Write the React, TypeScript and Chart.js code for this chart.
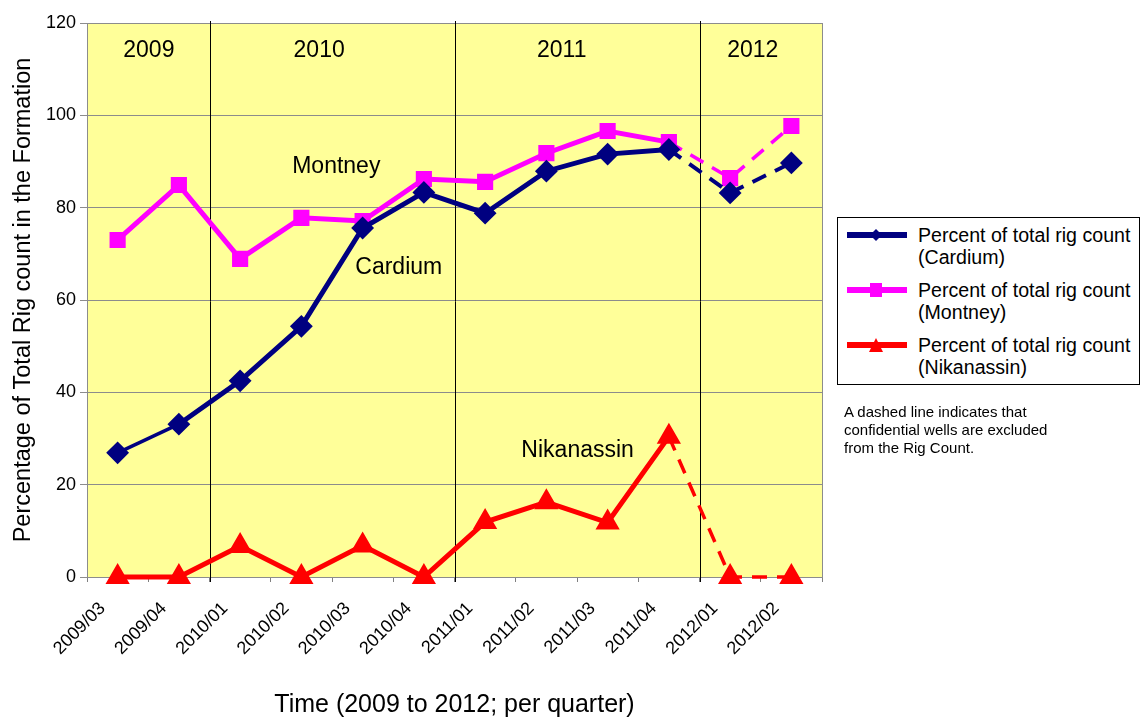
import React, { useEffect, useRef } from "react";
import { Chart, registerables } from "chart.js";

Chart.register(...registerables);

// ---------- data ----------
const quarters = [
  "2009/03", "2009/04", "2010/01", "2010/02", "2010/03", "2010/04",
  "2011/01", "2011/02", "2011/03", "2011/04", "2012/01", "2012/02",
];
const cardium = [26.9, 33.1, 42.5, 54.3, 75.6, 83.3, 78.8, 87.9, 91.6, 92.6, 83.2, 89.7];
const montney = [73.0, 84.9, 68.9, 77.8, 77.1, 86.2, 85.6, 91.8, 96.6, 94.2, 86.4, 97.7];
const nikanassin = [0, 0, 6.7, 0, 6.8, 0, 11.9, 16.2, 11.8, 30.4, 0, 0];
const seriesNames = ["Cardium", "Montney", "Nikanassin"];
const legendPrefix = "Percent of total rig count";
const yMin = 0;
const yMax = 120;
const yStep = 20;
const firstDashedSegment = 9; // segments starting at 2011/04 are dashed
const yearNames = ["2009", "2010", "2011", "2012"];
const yearNamePos = [0.51, 3.29, 7.25, 10.37]; // category-index positions
const yearNameValue = 114;
const yearBoundaries = [1.5, 5.5, 9.5];
const seriesTagNames = ["Montney", "Cardium", "Nikanassin"];
const seriesTagPos = [3.57, 4.59, 7.51];
const seriesTagValue = [88.8, 66.9, 27.3];
const xTitle = "Time (2009 to 2012; per quarter)";
const yTitle = "Percentage of Total Rig count in the Formation";
const noteLines = [
  "A dashed line indicates that",
  "confidential wells are excluded",
  "from the Rig Count.",
];

const FONT = "'Liberation Sans', Arial, sans-serif";
const NAVY = "#000080";
const MAGENTA = "#FF00FF";
const RED = "#FF0000";
const colors = [NAVY, MAGENTA, RED];

const decorPlugin = {
  id: "decor",
  beforeDraw(chart: any) {
    const { ctx, chartArea: a } = chart;
    ctx.save();
    ctx.fillStyle = "#FFFF99";
    ctx.fillRect(a.left, a.top, a.right - a.left, a.bottom - a.top);
    ctx.restore();
  },
  beforeDatasetsDraw(chart: any) {
    const { ctx, chartArea: a } = chart;
    const xs = chart.scales.x;
    const ys = chart.scales.y;
    ctx.save();
    // plot border
    ctx.strokeStyle = "#8c8c8c";
    ctx.lineWidth = 1;
    ctx.strokeRect(Math.round(a.left) + 0.5, Math.round(a.top) + 0.5, Math.round(a.right - a.left), Math.round(a.bottom - a.top));
    // year separators
    ctx.strokeStyle = "#000";
    ctx.lineWidth = 1;
    yearBoundaries.forEach((b) => {
      const x = Math.round(xs.getPixelForValue(b)) + 0.5;
      ctx.beginPath();
      ctx.moveTo(x, a.top - 2);
      ctx.lineTo(x, a.bottom + 5);
      ctx.stroke();
    });
    // labels
    ctx.fillStyle = "#000";
    ctx.textAlign = "center";
    ctx.textBaseline = "middle";
    ctx.font = `23px ${FONT}`;
    yearNames.forEach((t, i) => {
      ctx.fillText(t, xs.getPixelForValue(yearNamePos[i]), ys.getPixelForValue(yearNameValue));
    });
    seriesTagNames.forEach((t, i) => {
      ctx.fillText(t, xs.getPixelForValue(seriesTagPos[i]), ys.getPixelForValue(seriesTagValue[i]));
    });
    ctx.restore();
  },
};

function seg(width: number) {
  return {
    borderDash: (c: any) => (c.p0DataIndex >= firstDashedSegment ? [15, 10] : undefined),
    borderWidth: (c: any) => (c.p0DataIndex >= firstDashedSegment ? 3.5 : width),
  };
}

function LegendIcon({ kind, color }: { kind: string; color: string }) {
  let marker: any = null;
  if (kind === "diamond") marker = <polygon points="30,4 36,10 30,16 24,10" fill={color} />;
  if (kind === "square") marker = <rect x={24} y={3} width={12} height={14} fill={color} />;
  if (kind === "triangle") marker = <polygon points="30,3 37,17 23,17" fill={color} />;
  return (
    <svg width={62} height={20} style={{ position: "absolute", left: 8, top: 0 }}>
      <line x1={1} y1={10} x2={61} y2={10} stroke={color} strokeWidth={6} />
      {marker}
    </svg>
  );
}

export default function App() {
  const ref = useRef<HTMLCanvasElement>(null);

  useEffect(() => {
    const canvas = ref.current!;
    const chart = new Chart(canvas, {
      type: "line",
      data: {
        labels: quarters,
        datasets: [
          {
            label: seriesNames[0],
            data: cardium,
            borderColor: NAVY,
            backgroundColor: NAVY,
            borderWidth: 5,
            pointStyle: "rectRot",
            pointRadius: 10,
            pointBorderWidth: 2,
            pointBackgroundColor: NAVY,
            pointBorderColor: NAVY,
            segment: {
              borderDash: (c: any) => (c.p0DataIndex >= firstDashedSegment ? [15, 10] : undefined),
              borderWidth: (c: any) => (c.p0DataIndex >= firstDashedSegment ? 4 : c.p0DataIndex === 0 ? 3.5 : 5),
            },
            tension: 0,
            clip: false,
          } as any,
          {
            label: seriesNames[1],
            data: montney,
            borderColor: MAGENTA,
            backgroundColor: MAGENTA,
            borderWidth: 5,
            pointStyle: "rect",
            pointRadius: 10,
            pointBorderWidth: 2,
            pointBackgroundColor: MAGENTA,
            pointBorderColor: MAGENTA,
            segment: seg(5),
            tension: 0,
            clip: false,
          } as any,
          {
            label: seriesNames[2],
            data: nikanassin,
            borderColor: RED,
            backgroundColor: RED,
            borderWidth: 5,
            pointStyle: "triangle",
            pointRadius: 12,
            pointBorderWidth: 2,
            pointBackgroundColor: RED,
            pointBorderColor: RED,
            segment: seg(5),
            tension: 0,
            clip: false,
          } as any,
        ],
      },
      options: {
        responsive: false,
        animation: false,
        devicePixelRatio: 1,
        layout: { padding: { top: 23, right: 319, left: 0, bottom: 0 } },
        plugins: {
          legend: { display: false },
          tooltip: { enabled: false },
        },
        scales: {
          x: {
            type: "category",
            offset: true,
            grid: { offset: true, drawOnChartArea: false, drawTicks: true, tickLength: 5, color: "#808080" },
            border: { color: "#808080", width: 1 },
            ticks: {
              autoSkip: false,
              minRotation: 45,
              maxRotation: 45,
              labelOffset: -15,
              padding: 16,
              color: "#000",
              font: { family: FONT, size: 18 },
            },
            title: {
              display: true,
              text: xTitle,
              color: "#000",
              font: { family: FONT, size: 25 },
              padding: { top: 0, bottom: 0 },
            },
            afterFit: (s: any) => {
              s.height = 143;
              s.paddingLeft = 0;
              s.paddingRight = 0;
            },
          },
          y: {
            min: yMin,
            max: yMax,
            ticks: { stepSize: yStep, color: "#000", font: { family: FONT, size: 18 }, padding: 4 },
            grid: { color: "#8c8c8c", tickLength: 7, drawTicks: true },
            border: { color: "#808080" },
            title: {
              display: true,
              text: yTitle,
              color: "#000",
              font: { family: FONT, size: 23.5 },
              padding: { top: 9, bottom: 0 },
            },
            afterFit: (s: any) => {
              s.width = 87;
            },
          },
        },
      } as any,
      plugins: [decorPlugin],
    });
    return () => chart.destroy();
  }, []);

  const kinds = ["diamond", "square", "triangle"];

  return (
    <div style={{ position: "fixed", left: 0, top: 0, width: 1141, height: 720, background: "#fff", overflow: "hidden" }}>
      <canvas ref={ref} width={1141} height={720} style={{ position: "absolute", left: 0, top: 0, width: 1141, height: 720 }} />
      <div
        style={{
          position: "absolute",
          left: 837,
          top: 217,
          width: 303,
          height: 168,
          boxSizing: "border-box",
          border: "1px solid #000",
          background: "#fff",
          fontFamily: FONT,
          fontSize: 19.6,
          lineHeight: "22px",
          color: "#000",
        }}
      >
        {seriesNames.map((n, i) => (
          <div key={n} style={{ position: "absolute", left: 0, top: 7 + i * 55, width: 300, height: 50 }}>
            <LegendIcon kind={kinds[i]} color={colors[i]} />
            <div style={{ position: "absolute", left: 80, top: -1, whiteSpace: "nowrap" }}>
              <div>{legendPrefix}</div>
              <div>({n})</div>
            </div>
          </div>
        ))}
      </div>
      <div
        style={{
          position: "absolute",
          left: 844,
          top: 403,
          fontFamily: FONT,
          fontSize: 15,
          lineHeight: "18px",
          color: "#000",
          whiteSpace: "nowrap",
        }}
      >
        {noteLines.map((l) => (
          <div key={l}>{l}</div>
        ))}
      </div>
    </div>
  );
}
